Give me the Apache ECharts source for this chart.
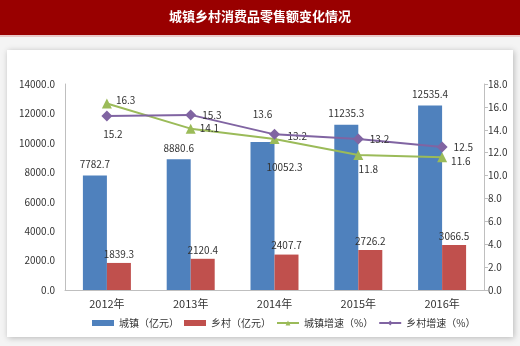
<!DOCTYPE html>
<html><head><meta charset="utf-8">
<script src="https://cdn.jsdelivr.net/npm/echarts@6/dist/echarts.min.js"></script>
<style>html,body{margin:0;padding:0;background:#f4f4f4}#c{width:520px;height:346px}</style>
</head><body><div id="c"></div>
<script>
var title = '城镇乡村消费品零售额变化情况';
var categories = ['2012年','2013年','2014年','2015年','2016年'];
var urbanSales = [7782.7, 8880.6, 10052.3, 11235.3, 12535.4];
var ruralSales = [1839.3, 2120.4, 2407.7, 2726.2, 3066.5];
var urbanGrowth = [16.3, 14.1, 13.2, 11.8, 11.6];
var ruralGrowth = [15.2, 15.3, 13.6, 13.2, 12.5];
var seriesNames = ['城镇（亿元）','乡村（亿元）','城镇增速（%）','乡村增速（%）'];

var font = '"Noto Sans CJK SC", "Noto Sans", sans-serif';
var chart = echarts.init(document.getElementById('c'));

var urbanBarData = urbanSales.map(function(v,i){
  if (i === 2) return {value: v, label: {position: 'insideTop', offset: [22, 14]}};
  return v;
});
var urbanLineLabelPos = ['right','right','right','bottom','right'];
var urbanLineOffset = [[0,-3],[0,0],[4,-3],[10,0],[0,4]];
var ruralLineLabelPos = ['bottom','right','top','right','right'];
var ruralLineOffset = [[6,2],[0,0],[-12,-4],[0,0],[0,0]];

chart.setOption({
  backgroundColor: '#f4f4f4',
  textStyle: {fontFamily: font},
  graphic: [
    {type: 'rect', shape: {x: 0, y: 0, width: 520, height: 35}, style: {fill: '#990000'}, z: 0},
    {type: 'rect', shape: {x: 0, y: 35, width: 520, height: 2}, style: {fill: '#e8c8c8'}, z: 0},
    {type: 'rect', shape: {x: 7, y: 50, width: 506, height: 287},
     style: {fill: '#ffffff', shadowBlur: 6, shadowColor: 'rgba(0,0,0,0.25)', shadowOffsetX: 1, shadowOffsetY: 1}, z: -1, silent: true},
    {type: 'text', left: 'center', top: 10, z: 5,
     style: {text: title, fill: '#ffffff', font: 'bold 13px ' + font}}
  ],
  legend: {
    left: 87, top: 313, itemGap: 5, itemWidth: 22, itemHeight: 6,
    textStyle: {fontSize: 10, color: '#333', fontFamily: font},
    data: [
      {name: seriesNames[0], icon: 'rect'},
      {name: seriesNames[1], icon: 'rect'},
      {name: seriesNames[2]},
      {name: seriesNames[3]}
    ]
  },
  grid: {left: 65, right: 36, top: 84, bottom: 56},
  xAxis: {
    type: 'category', data: categories,
    axisLine: {lineStyle: {color: '#bfbfbf'}},
    axisTick: {show: false},
    axisLabel: {color: '#333', fontSize: 11, margin: 8, fontFamily: font}
  },
  yAxis: [
    {type: 'value', min: 0, max: 14000, interval: 2000,
     axisLine: {show: true, lineStyle: {color: '#bfbfbf'}},
     axisTick: {show: false},
     splitLine: {show: false},
     axisLabel: {color: '#333', fontSize: 10, margin: 10, formatter: function(v){return v.toFixed(1);}}},
    {type: 'value', min: 0, max: 18, interval: 2, position: 'right',
     axisLine: {show: true, lineStyle: {color: '#bfbfbf'}},
     axisTick: {show: true, length: 4, lineStyle: {color: '#bfbfbf'}},
     splitLine: {show: false},
     axisLabel: {color: '#333', fontSize: 10, margin: 4, formatter: function(v){return v.toFixed(1);}}}
  ],
  series: [
    {name: seriesNames[0], type: 'bar', data: urbanBarData, barWidth: 24, barGap: '0%',
     itemStyle: {color: '#4f81bd'},
     label: {show: true, position: 'top', distance: 6, fontSize: 10, color: '#333'}},
    {name: seriesNames[1], type: 'bar', data: ruralSales, barWidth: 24,
     itemStyle: {color: '#c0504d'},
     label: {show: true, position: 'top', distance: 4, fontSize: 10, color: '#333'}},
    {name: seriesNames[2], type: 'line', yAxisIndex: 1,
     data: urbanGrowth.map(function(v,i){return {value: v, label: {position: urbanLineLabelPos[i], offset: urbanLineOffset[i]}};}),
     symbol: 'triangle', symbolSize: 10, lineStyle: {color: '#9bbb59', width: 2},
     itemStyle: {color: '#9bbb59'},
     label: {show: true, fontSize: 10, color: '#333', distance: 4}, z: 3},
    {name: seriesNames[3], type: 'line', yAxisIndex: 1,
     data: ruralGrowth.map(function(v,i){return {value: v, label: {position: ruralLineLabelPos[i], offset: ruralLineOffset[i]}};}),
     symbol: 'diamond', symbolSize: 11, lineStyle: {color: '#8064a2', width: 2},
     itemStyle: {color: '#8064a2'},
     label: {show: true, fontSize: 10, color: '#333', distance: 6}, z: 4}
  ]
});
</script></body></html>
